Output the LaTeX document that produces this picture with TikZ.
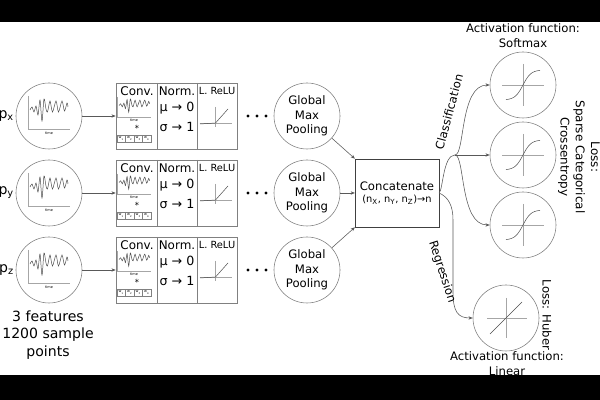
\documentclass[tikz,border=0pt]{standalone}
\usepackage{fontspec}
\setmainfont{DejaVu Sans}
\usetikzlibrary{arrows.meta,positioning}
\tikzset{
  link/.style={draw=gray!70!black, line width=0.4pt, -{Stealth[length=3pt,width=2.4pt]}},
  wire/.style={draw=gray!70!black, line width=0.4pt},
  ring/.style={circle, draw=gray, line width=0.4pt, minimum size=1.65cm, inner sep=0pt},
  frame/.style={draw=gray, line width=0.4pt},
  axisline/.style={draw=gray!70, line width=0.3pt},
  sig/.style={draw=gray!60!black, line width=0.35pt},
  tiny/.style={font=\fontsize{2.5}{3}\selectfont, inner sep=0pt},
  wcell/.style={draw=gray, line width=0.25pt, minimum width=0.2125cm, minimum height=0.175cm, inner sep=0pt, font=\fontsize{2.5}{3}\selectfont},
  lbl/.style={font=\fontsize{8.3}{10.5}\selectfont, align=center, inner sep=0pt},
}
\newcommand{\signal}[3]{\draw[sig, shift={(#1)}, xscale=#2, yscale=#3] plot[smooth] coordinates {(2,19) (4,22) (6,17) (8,23) (10,14) (12,29) (14,8) (16,30) (18,20) (19.5,17) (22,28) (24.5,17) (28,28) (30.5,17) (34,28) (36.5,18) (39,26) (40,22)};}

\begin{document}
\begin{tikzpicture}[x=0.025cm, y=0.025cm]
  \useasboundingbox (0,0) rectangle (600,400);
  \fill[black] (0,0) rectangle (600,400);
  \fill[white] (0,25) rectangle (600,378);
  \foreach \i/\y in {x/284, y/207, z/130}{
    \node[ring] (in\i) at (49,\y) {};
    \node[left=1pt of in\i, inner sep=0pt] (lab\i) {p\textsubscript{\i}};
    \draw[axisline] (28,\y+20) -- (28,\y-13) -- (70,\y-13);
    \signal{28,\y-13}{1}{1}
    \node[tiny] at (49,\y-17) {time};
    \node[frame, minimum width=3.025cm, minimum height=1.65cm] (blk\i) at (176.5,\y) {};
    \draw[frame] (157,\y+33) -- (157,\y-33) (197,\y+33) -- (197,\y-33);
    \draw[link] (in\i) -- (blk\i);
    \node[lbl, font=\fontsize{8.5}{10}\selectfont] (conv\i) at (137,\y+25) {Conv.};
    \node[lbl, font=\fontsize{8.5}{10}\selectfont] (norm\i) at (177,\y+25) {Norm.};
    \node[lbl, font=\fontsize{7}{9}\selectfont] (relu\i) at (217,\y+25) {L. ReLU};
    \draw[axisline] (117.5,\y+19) -- (117.5,\y-1) -- (151,\y-1);
    \signal{117.5,\y-1}{0.8}{0.6}
    \node[tiny] at (134,\y-4) {time};
    \node[inner sep=0pt, font=\fontsize{6}{7}\selectfont] (star\i) at (137,\y-12) {*};
    \foreach \k in {1,...,4}
      \node[wcell] (w\i\k) at (112.75+8.5*\k, \y-22.5) {w\textsubscript{\k}};
    \node[lbl, font=\fontsize{9}{11}\selectfont] (mu\i) at (177,\y+8) {μ → 0};
    \node[lbl, font=\fontsize{9}{11}\selectfont] (sd\i) at (177,\y-11) {σ → 1};
    \draw[axisline] (215.5,\y+9) -- (215.5,\y-11) (200,\y-7) -- (232,\y-7);
    \draw[sig] (200,\y-8) -- (215.5,\y-7) -- (228,\y+7);
    \foreach \d in {248,257,266}
      \fill (\d,\y) circle (1.6);
    \node[ring, lbl] (gmp\i) at (307,\y) {Global\\Max\\Pooling};
  }
  \node[lbl, font=\fontsize{10}{12.4}\selectfont] (feat) at (48,65) {3 features\\1200 sample\\points};
  \node[draw=gray!50!black, line width=0.4pt, minimum width=2cm, minimum height=1.7cm, align=center, font=\fontsize{8.3}{10}\selectfont] (concat) at (397,207) {Concatenate\\[-1pt]{\fontsize{7}{8}\selectfont (n\textsubscript{X}, n\textsubscript{Y}, n\textsubscript{Z})→n}};
  \draw[link] (gmpx) -- (concat.north west);
  \draw[link] (gmpy) -- (concat);
  \draw[link] (gmpz) -- (concat.south west);
  \foreach \k/\y in {1/315, 2/245, 3/175}{
    \node[ring] (soft\k) at (523,\y) {};
    \draw[axisline] (502,\y) -- (544,\y) (523,\y+21) -- (523,\y-21);
    \draw[sig] plot[domain=-17:17, samples=40] ({523+\x}, {\y+15*tanh(\x/8)});
  }
  \node[ring] (reg) at (506,82) {};
  \draw[axisline] (487,82) -- (527,82) (506,102) -- (506,62);
  \draw[sig] (490,66) -- (522,98);
  \coordinate (split) at (455,245);
  \draw[wire] (concat.east) .. controls (443,210) and (443,245) .. (split);
  \draw[link] (split) -- (soft2);
  \draw[link] (split) .. controls +(10,0) and +(-30,0) .. (soft1.west);
  \draw[link] (split) .. controls +(10,0) and +(-30,0) .. (soft3.west);
  \draw[link] (concat.east) .. controls (448,203) and (453,195) .. (453,180) -- (453,108) .. controls (453,88) and (458,82) .. (reg.west);
  \node[lbl] (actsoft) at (523,364) {Activation function:\\Softmax};
  \node[lbl, rotate=-90, font=\fontsize{8.5}{10.8}\selectfont] (losscls) at (579,243) {Loss:\\Sparse Categorical\\Crossentropy};
  \node[lbl, rotate=-90] (losshub) at (547,85) {Loss: Huber};
  \node[lbl] (actlin) at (507,36) {Activation function:\\Linear};
  \node[lbl, rotate=75] (cls) at (449,288) {Classification};
  \node[lbl, rotate=-72] (regl) at (442,128) {Regression};
\end{tikzpicture}
\end{document}
